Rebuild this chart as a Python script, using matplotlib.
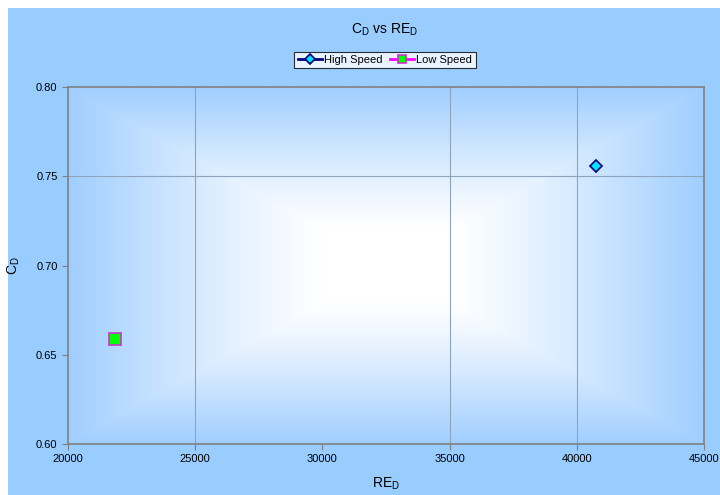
import matplotlib
matplotlib.use("Agg")
import matplotlib.pyplot as plt
import numpy as np
from matplotlib.patches import Rectangle

plt.rcParams['font.family'] = ['Liberation Sans', 'DejaVu Sans']
plt.rcParams['mathtext.fontset'] = 'custom'
plt.rcParams['mathtext.rm'] = 'Liberation Sans'

# data
high_re = [40750]
high_cd = [0.7555]
low_re = [21850]
low_cd = [0.6588]

x_ticks = [20000, 25000, 30000, 35000, 40000, 45000]
y_ticks = [0.60, 0.65, 0.70, 0.75, 0.80]
x_grid = [25000, 35000, 40000]
y_grid = [0.75]

bg_blue = np.array([153, 204, 255]) / 255.0

fig = plt.figure(figsize=(7.2, 4.95), dpi=100)
fig.patch.set_facecolor('white')
fig.patches.append(Rectangle((8 / 720, 0), 1, 1 - 8 / 495, transform=fig.transFigure,
                             facecolor=bg_blue, edgecolor='none', zorder=-10))

ax = fig.add_axes([68 / 720, 1 - 444 / 495, (704 - 68) / 720, (444 - 87) / 495])
ax.set_xlim(20000, 45000)
ax.set_ylim(0.60, 0.80)

# rectangular "from centre" gradient, white in the middle
u = np.linspace(-1, 1, 400)
v = np.linspace(-1, 1, 300)
U, V = np.meshgrid(u, v)
t = np.maximum(np.abs(U), np.abs(V))
t = np.clip((t - 0.2) / 0.8, 0, 1) ** 1.2
edge = np.array([160, 206, 255]) / 255.0
img = (1 - t)[..., None] * np.ones(3) + t[..., None] * edge
ax.imshow(img, extent=[20000, 45000, 0.60, 0.80], aspect='auto', zorder=0,
          interpolation='bilinear')

for xg in x_grid:
    ax.axvline(xg, color='#8ea4bc', lw=0.8, zorder=1)
for yg in y_grid:
    ax.axhline(yg, color='#8ea4bc', lw=0.8, zorder=1)

ax.plot(high_re, high_cd, color='#000080', marker='D', markersize=6.5,
        markerfacecolor='#00e5ff', markeredgecolor='#000080', markeredgewidth=1.2,
        lw=2, label='High Speed', zorder=3)
ax.plot(low_re, low_cd, color='#ff00ff', marker='s', markersize=8,
        markerfacecolor='#00ff00', markeredgecolor='#cc33cc', markeredgewidth=1.2,
        lw=2, label='Low Speed', zorder=3)

ax.set_xticks(x_ticks)
ax.set_yticks(y_ticks)
ax.set_yticklabels([f'{y:.2f}' for y in y_ticks])
ax.tick_params(labelsize=8, length=4, color='#808080', direction='out')
for s in ax.spines.values():
    s.set_color('#808080')
    s.set_linewidth(1.2)

ax.set_xlabel(r'RE$_\mathregular{D}$', fontsize=10, labelpad=8)
ax.set_ylabel(r'C$_\mathregular{D}$', fontsize=10, labelpad=10)
fig.text(385 / 720, 1 - 30 / 495, r'C$_\mathregular{D}$ vs RE$_\mathregular{D}$',
         ha='center', va='center', fontsize=10)

leg = fig.legend(loc='center', bbox_to_anchor=(385 / 720, 1 - 60 / 495), ncol=2,
                 fontsize=8, frameon=True, fancybox=False, handlelength=2.2,
                 handletextpad=0.2, columnspacing=0.6, borderpad=0.3,
                 markerscale=0.8)
leg.get_frame().set_edgecolor('black')
leg.get_frame().set_linewidth(0.8)

fig.savefig('out.png', dpi=100)
